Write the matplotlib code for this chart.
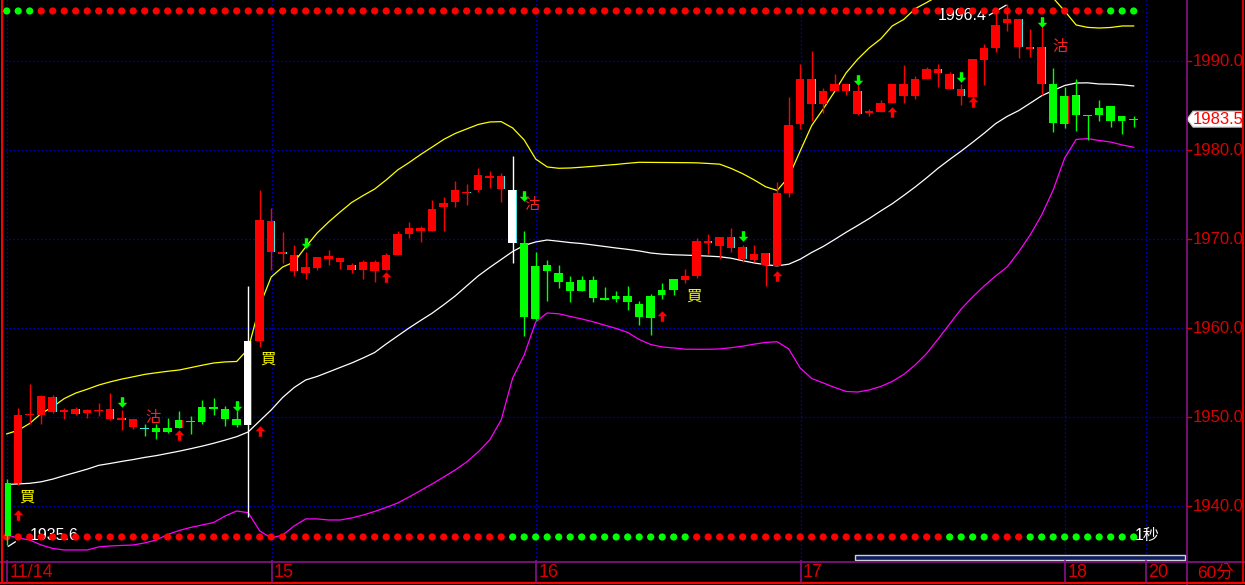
import numpy as np
import matplotlib
matplotlib.use('Agg')
import matplotlib.pyplot as plt
from matplotlib.patches import Rectangle, Polygon
from matplotlib.lines import Line2D
from matplotlib.path import Path
from matplotlib.transforms import blended_transform_factory

plt.rcParams['font.family'] = ['Liberation Sans', 'Noto Sans CJK TC', 'DejaVu Sans']

# ---------------- data (60-minute bars) ----------------
opens = [1942.6, 1942.6, 1950.25, 1950.3, 1950.6, 1950.7, 1950.4, 1950.5, 1950.8, 1949.8,
         1949.8, 1948.9, 1948.7, 1948.8, 1948.8, 1949.7, 1949.5, 1951.2, 1951.2, 1950.9,
         1949.8, 1949.1, 1958.6, 1968.6, 1968.3, 1966.4, 1966.2, 1966.8, 1967.8, 1967.5,
         1966.5, 1966.5, 1966.4, 1966.5, 1968.2, 1970.6, 1970.9, 1970.9, 1973.6, 1974.2,
         1975.3, 1975.5, 1977.0, 1975.6, 1975.5, 1969.6, 1967.0, 1967.1, 1966.2, 1965.2,
         1965.4, 1965.4, 1963.3, 1963.6, 1963.6, 1962.7, 1963.6, 1964.3, 1965.5, 1965.4,
         1965.9, 1969.6, 1969.3, 1969.0, 1967.8, 1967.7, 1967.1, 1967.0, 1975.2, 1983.0,
         1985.2, 1985.2, 1986.7, 1986.7, 1984.1, 1984.3, 1984.3, 1985.3, 1986.1, 1986.1,
         1988.0, 1988.7, 1986.9, 1986.1, 1986.0, 1990.2, 1991.5, 1994.3, 1991.6, 1991.5,
         1987.4, 1987.4, 1986.1, 1986.2, 1983.9, 1984.8, 1985.0, 1983.8, 1983.5]
highs = [1943.1, 1951.0, 1953.7, 1952.5, 1952.5, 1951.0, 1951.1, 1950.9, 1951.6, 1952.7,
         1950.8, 1949.8, 1949.3, 1949.3, 1949.9, 1950.7, 1950.1, 1951.9, 1952.2, 1951.3,
         1950.7, 1964.7, 1975.5, 1973.5, 1970.8, 1969.4, 1968.6, 1968.0, 1968.8, 1967.9,
         1967.3, 1967.7, 1967.7, 1968.5, 1970.9, 1971.9, 1971.5, 1974.4, 1974.7, 1976.5,
         1976.2, 1978.0, 1977.7, 1977.4, 1979.4, 1970.9, 1968.6, 1967.7, 1967.1, 1965.9,
         1965.9, 1965.9, 1964.6, 1964.2, 1964.7, 1963.1, 1963.9, 1965.1, 1965.5, 1966.7,
         1970.1, 1970.6, 1970.3, 1971.3, 1969.4, 1969.4, 1968.5, 1976.4, 1986.0, 1989.7,
         1991.2, 1987.0, 1988.6, 1987.4, 1987.3, 1984.6, 1985.6, 1987.5, 1989.6, 1988.3,
         1989.4, 1989.7, 1988.8, 1987.4, 1990.3, 1992.0, 1995.5, 1996.4, 1994.8, 1993.6,
         1994.7, 1989.2, 1987.1, 1988.0, 1984.0, 1985.7, 1985.0, 1983.9, 1983.8]
lows = [1935.6, 1942.4, 1949.3, 1949.3, 1950.5, 1949.8, 1950.2, 1949.9, 1950.1, 1949.7,
        1948.6, 1948.7, 1947.9, 1947.6, 1948.2, 1948.8, 1948.1, 1949.2, 1950.3, 1949.0,
        1948.9, 1938.8, 1957.9, 1966.5, 1967.3, 1965.9, 1965.5, 1966.5, 1967.1, 1966.7,
        1966.2, 1965.5, 1965.2, 1966.5, 1968.2, 1970.2, 1969.7, 1970.9, 1970.9, 1973.6,
        1973.9, 1975.3, 1975.8, 1974.2, 1967.3, 1959.1, 1960.9, 1963.1, 1964.5, 1962.9,
        1964.2, 1963.0, 1963.2, 1962.9, 1962.1, 1960.4, 1959.3, 1963.3, 1963.7, 1965.1,
        1965.7, 1968.4, 1967.8, 1968.6, 1967.5, 1967.5, 1964.8, 1967.0, 1974.7, 1982.4,
        1983.3, 1984.2, 1986.7, 1986.2, 1984.0, 1983.8, 1984.3, 1985.3, 1985.3, 1985.8,
        1988.0, 1987.1, 1986.9, 1985.1, 1986.0, 1987.3, 1991.0, 1993.4, 1990.4, 1990.5,
        1986.2, 1982.0, 1982.5, 1982.2, 1981.2, 1983.3, 1982.65, 1981.8, 1982.65]
closes = [1936.7, 1950.2, 1950.3, 1952.4, 1952.3, 1950.7, 1950.9, 1950.8, 1950.8, 1950.9,
          1949.8, 1949.8, 1948.7, 1948.4, 1948.3, 1948.8, 1949.5, 1949.5, 1950.9, 1949.8,
          1949.1, 1958.6, 1972.2, 1972.1, 1968.6, 1968.2, 1966.9, 1968.0, 1968.1, 1967.9,
          1967.1, 1967.5, 1967.5, 1968.2, 1970.6, 1971.3, 1971.3, 1973.4, 1974.1, 1975.5,
          1975.3, 1977.2, 1977.0, 1977.1, 1969.6, 1961.3, 1961.0, 1966.4, 1965.2, 1964.2,
          1964.2, 1963.4, 1963.3, 1963.3, 1962.9, 1961.3, 1961.2, 1963.7, 1964.3, 1965.9,
          1969.8, 1969.8, 1970.3, 1970.3, 1969.1, 1968.4, 1968.5, 1975.2, 1982.8, 1988.0,
          1988.0, 1986.7, 1987.4, 1987.4, 1986.7, 1984.3, 1985.3, 1987.5, 1987.5, 1988.0,
          1989.1, 1989.1, 1988.6, 1986.9, 1990.3, 1991.5, 1994.1, 1994.8, 1994.8, 1991.5,
          1991.6, 1983.1, 1983.0, 1984.0, 1983.85, 1984.0, 1983.3, 1983.3, 1983.5]
# candle colour code: r=red, g=green, w=white, c=cyan doji
kinds = "g" + "r" * 11 + "c" + "g" * 8 + "w" + "r" * 22 + "w" + "g" * 14 + "r" * 32 + "g" * 8
cyan_edge = [4, 6, 9, 10, 23, 24, 25, 30, 40, 43, 44, 61, 63, 64, 66, 70, 73, 74, 81, 82, 83, 88, 89, 90, 93]
red_edge = [15, 17, 21, 46, 50, 53, 57, 92, 97]

# Bollinger-type bands
upper = [1948.13, 1948.54, 1949.31, 1950.42, 1951.17, 1952.10, 1952.72, 1953.15, 1953.62, 1953.98,
         1954.29, 1954.55, 1954.82, 1955.00, 1955.17, 1955.31, 1955.58, 1955.85, 1956.10, 1956.22,
         1956.27, 1957.68, 1962.51, 1965.77, 1966.89, 1967.45, 1969.14, 1970.71, 1971.95, 1973.07,
         1974.14, 1974.92, 1975.65, 1976.67, 1977.79, 1978.63, 1979.53, 1980.37, 1981.22, 1981.89,
         1982.40, 1982.90, 1983.18, 1983.22, 1982.51, 1981.16, 1979.02, 1978.13, 1977.98, 1978.01,
         1978.10, 1978.20, 1978.31, 1978.41, 1978.54, 1978.65, 1978.64, 1978.63, 1978.62, 1978.61,
         1978.59, 1978.52, 1978.44, 1977.96, 1977.37, 1976.67, 1975.90, 1975.49, 1977.00, 1979.92,
         1982.78, 1984.64, 1986.61, 1988.71, 1990.23, 1991.50, 1992.51, 1993.97, 1994.70, 1995.91,
         1996.61, 1997.34, 1997.90, 1998.35, 1998.80, 1999.25, 1999.58, 1999.81, 1999.81, 1999.36,
         1998.46, 1997.11, 1995.65, 1994.08, 1993.81, 1993.74, 1993.80, 1993.97, 1993.97]
middle = [1942.45, 1942.51, 1942.58, 1942.75, 1943.05, 1943.44, 1943.80, 1944.17, 1944.60, 1944.81,
          1945.04, 1945.25, 1945.49, 1945.69, 1945.94, 1946.19, 1946.47, 1946.76, 1947.08, 1947.44,
          1947.82, 1948.35, 1949.59, 1950.82, 1952.23, 1953.35, 1954.19, 1954.59, 1955.09, 1955.60,
          1956.10, 1956.67, 1957.28, 1958.24, 1959.14, 1960.04, 1960.88, 1961.70, 1962.64, 1963.63,
          1964.76, 1965.88, 1966.83, 1967.73, 1968.63, 1969.31, 1969.70, 1969.92, 1969.78, 1969.63,
          1969.52, 1969.36, 1969.19, 1969.02, 1968.87, 1968.69, 1968.46, 1968.33, 1968.26, 1968.22,
          1968.17, 1968.11, 1968.04, 1967.87, 1967.59, 1967.34, 1967.14, 1967.02, 1967.20, 1967.76,
          1968.52, 1969.19, 1969.98, 1970.79, 1971.55, 1972.33, 1973.18, 1973.99, 1974.92, 1975.88,
          1976.91, 1977.99, 1978.97, 1979.91, 1980.90, 1981.92, 1983.00, 1983.81, 1984.46, 1985.29,
          1986.13, 1986.72, 1987.28, 1987.56, 1987.58, 1987.45, 1987.43, 1987.36, 1987.23]
lower = [1936.77, 1936.44, 1936.21, 1935.65, 1935.26, 1935.09, 1935.09, 1935.09, 1935.43, 1935.54,
         1935.60, 1935.65, 1935.88, 1936.21, 1936.83, 1937.28, 1937.62, 1937.90, 1938.18, 1938.91,
         1939.47, 1939.28, 1937.23, 1936.44, 1936.77, 1937.79, 1938.58, 1938.58, 1938.46, 1938.46,
         1938.69, 1939.02, 1939.42, 1939.87, 1940.37, 1941.05, 1941.78, 1942.51, 1943.29, 1944.08,
         1944.98, 1946.10, 1947.45, 1949.70, 1954.42, 1957.00, 1960.71, 1961.72, 1961.63, 1961.33,
         1961.05, 1960.73, 1960.35, 1959.98, 1959.53, 1958.74, 1958.18, 1957.90, 1957.79, 1957.65,
         1957.64, 1957.64, 1957.68, 1957.82, 1957.99, 1958.22, 1958.41, 1958.49, 1957.68, 1955.54,
         1954.36, 1953.86, 1953.35, 1952.90, 1952.84, 1953.07, 1953.46, 1954.02, 1954.81, 1955.88,
         1957.17, 1958.80, 1960.49, 1962.17, 1963.52, 1964.76, 1965.88, 1966.89, 1968.58, 1970.49,
         1972.73, 1975.54, 1979.14, 1981.22, 1981.31, 1981.10, 1980.93, 1980.60, 1980.34]

# signal dot rows (r / g per bar)
top_dots = "ggg" + "r" * 93 + "ggg"
bottom_dots = "r" * 44 + "g" * 16 + "r" * 22 + "g" * 4 + "r" * 3 + "g" * 10

# buy / sell arrows and labels
buy_arrow_idx = [1, 15, 22, 33, 57, 67, 77, 84]
buy_arrow_px = [1938.97, 1948.01, 1948.41, 1965.77, 1961.33, 1965.88, 1984.25, 1985.43]
sell_arrow_idx = [10, 20, 26, 45, 64, 74, 83, 90]
sell_arrow_px = [1951.67, 1951.27, 1969.53, 1974.87, 1970.32, 1987.90, 1988.29, 1994.36]
buy_text_idx = [1.77, 22.68, 59.72]
buy_text_px = [1940.99, 1956.55, 1963.63]
sell_text_idx = [12.68, 45.72, 91.63]
sell_text_px = [1949.92, 1973.86, 1991.66]

price_ticks = [1940.0, 1950.0, 1960.0, 1970.0, 1980.0, 1990.0]
day_idx = [0, 23, 46, 69, 92, 99]
day_labels = ['11/14', '15', '16', '17', '18', '20']
last_price = 1983.5
high_value, high_idx = 1996.4, 87
low_value, low_idx = 1935.6, 0
period_label = '60分'
tick_label = '1秒'

# ---------------- figure ----------------
W, H = 1245, 585
fig = plt.figure(figsize=(W / 100, H / 100), dpi=100, facecolor='black')
ax = fig.add_axes([5 / W, 24 / H, 1181 / W, 561 / H])
ax.set_facecolor('black')
ax.set_xlim(-0.148, 102.55)
ax.set_ylim(1933.85, 1996.888)
ax.axis('off')

RED = '#ff0000'
GREEN = '#00ff00'
CYAN = '#40e8e8'
BLUE = '#0000e8'
PURPLE = '#8a108a'
AXRED = '#d80000'

n = len(opens)
idx = np.arange(n)

# grid
ax.hlines(price_ticks, -0.148, 102.55, colors=BLUE, linestyles=(0, (1, 2.2)), lw=0.9, zorder=1)
for d in day_idx:
    ax.axvline(d + 0.05, color=BLUE, ls=(0, (1, 2.2)), lw=0.9, zorder=1)

# bands
ax.plot(idx, upper, color='#ffff00', lw=0.9, zorder=2)
ax.plot(idx, middle, color='#ffffff', lw=0.9, zorder=2)
ax.plot(idx, lower, color='#ff00ff', lw=0.9, zorder=2)

# signal dot rows
tdot = blended_transform_factory(ax.transData, ax.transAxes)
cmap = {'r': RED, 'g': GREEN}
ax.scatter(idx, np.full(n, 0.9804), s=27, c=[cmap[c] for c in top_dots], transform=tdot,
           zorder=3.5, linewidths=0, clip_on=False)
ax.scatter(idx, np.full(n, 0.0428), s=27, c=[cmap[c] for c in bottom_dots], transform=tdot,
           zorder=3.5, linewidths=0, clip_on=False)

# candles
bw = 0.74
px_price = 0.11236  # price per pixel
for i in range(n):
    o, h, l, c, k = opens[i], highs[i], lows[i], closes[i], kinds[i]
    col = {'r': RED, 'g': GREEN, 'w': '#ffffff', 'c': CYAN}[k]
    wick = GREEN if k == 'c' else col
    ax.vlines(i, l, h, colors=wick, lw=1.0, zorder=4)
    bot = min(o, c)
    ht = max(abs(c - o), 1.2 * px_price)
    if abs(c - o) < 1e-9:
        bot -= 0.6 * px_price
    ax.add_patch(Rectangle((i - bw / 2, bot), bw, ht, facecolor=col, edgecolor='none', zorder=4.2))
    if i in cyan_edge or i in red_edge:
        ecol = CYAN if i in cyan_edge else RED
        ax.add_patch(Rectangle((i + bw / 2 - 0.1, bot), 0.1, ht, facecolor=ecol,
                               edgecolor='none', zorder=4.3))

# arrows
up_verts = [(0, 1), (0.9, 0.05), (0.32, 0.05), (0.32, -1), (-0.32, -1), (-0.32, 0.05), (-0.9, 0.05), (0, 1)]
up_arrow = Path(up_verts)
down_arrow = Path([(x, -y) for x, y in up_verts])
ax.scatter(buy_arrow_idx, buy_arrow_px, marker=up_arrow, s=58, c=RED, linewidths=0, zorder=5)
ax.scatter(sell_arrow_idx, sell_arrow_px, marker=down_arrow, s=58, c=GREEN, linewidths=0, zorder=5)

cjk = ['Noto Sans CJK TC', 'DejaVu Sans']
for x, y in zip(buy_text_idx, buy_text_px):
    ax.text(x, y, '買', color='#ffff00', fontsize=11, family=cjk, ha='center', va='center', zorder=5)
for x, y in zip(sell_text_idx, sell_text_px):
    ax.text(x, y, '沽', color='#ff2020', fontsize=11, family=cjk, ha='center', va='center', zorder=5)

# high / low labels
ax.text(high_idx - 1.76, high_value - 1.25, f'{high_value:.1f}', color='white', fontsize=11.5,
        ha='right', va='center', zorder=3)
ax.plot([high_idx - 1.55, high_idx - 0.1], [high_value - 1.2, high_value - 0.1], color='white', lw=0.9, zorder=3)
ax.text(low_idx + 2.03, low_value + 1.06, f'{low_value:.1f}', color='white', fontsize=11.5,
        ha='left', va='center', zorder=3)
ax.plot([low_idx + 0.14, low_idx + 0.75], [low_value - 0.1, low_value + 0.4], color='white', lw=0.9, zorder=3)
ax.text(98.1, 1936.66, tick_label, color='white', fontsize=11.5, family=['Liberation Sans', 'Noto Sans CJK TC'],
        ha='left', va='center', zorder=5)

# ---------------- frame / axes decorations ----------------
def fline(x0, y0, x1, y1, color, lw):
    fig.add_artist(Line2D([x0 / W, x1 / W], [1 - y0 / H, 1 - y1 / H], color=color, lw=lw,
                          transform=fig.transFigure))

fline(1186.5, 0, 1186.5, 585, PURPLE, 1.2)
fline(0, 561.5, 1245, 561.5, PURPLE, 1.2)
fline(0, 582.5, 1245, 582.5, RED, 1.6)
fline(1.5, 0, 1.5, 582, RED, 1.4)
fline(1242.5, 0, 1242.5, 582, RED, 1.2)

# day ticks in the time strip
tday = blended_transform_factory(ax.transData, fig.transFigure)
for d, lab in zip(day_idx, day_labels):
    fig.add_artist(Line2D([d + 0.05, d + 0.05], [1 - 561 / H, 1 - 582 / H], color=PURPLE, lw=1.2,
                          transform=tday))
    ax.annotate(lab, xy=(d, 0), xycoords=blended_transform_factory(ax.transData, ax.transAxes),
                xytext=(1.8, -8.2), textcoords='offset points', color=AXRED, fontsize=13,
                ha='left', va='center', annotation_clip=False)
fig.text(1197 / W, 1 - 572.5 / H, period_label, color=AXRED, fontsize=12.5,
         family=['Liberation Sans', 'Noto Sans CJK TC'], ha='left', va='center')

# price labels
tpr = blended_transform_factory(ax.transAxes, ax.transData)
tfp = blended_transform_factory(fig.transFigure, ax.transData)
for p in price_ticks:
    ax.annotate(f'{p:.1f}', xy=(1, p), xycoords=tpr, xytext=(4.6, 0), textcoords='offset points',
                color=AXRED, fontsize=12, ha='left', va='center', annotation_clip=False)
    ax.add_line(Line2D([1187 / W, 1191 / W], [p, p], color=AXRED, lw=1.0, transform=tfp, clip_on=False))

# last price box
d = 8 * px_price
box = Polygon([(1187 / W, last_price), (1193 / W, last_price + d), (1242 / W, last_price + d),
               (1242 / W, last_price - d), (1193 / W, last_price - d)], closed=True,
              facecolor='white', edgecolor='#c0c0c0', lw=0.8, transform=tfp, clip_on=False, zorder=6)
ax.add_patch(box)
ax.annotate(f'{last_price:.1f}', xy=(1, last_price), xycoords=tpr, xytext=(4.6, 0),
            textcoords='offset points', color=RED, fontsize=12, ha='left', va='center',
            annotation_clip=False, zorder=7)

# scroll bar
fig.add_artist(Rectangle((855 / W, 1 - 559.5 / H), (1185 - 855) / W, 4.5 / H, facecolor='#0c1c5c',
                         edgecolor='#d0d0d0', lw=1.0, transform=fig.transFigure))

fig.savefig('out.png', dpi=100, facecolor='black')
